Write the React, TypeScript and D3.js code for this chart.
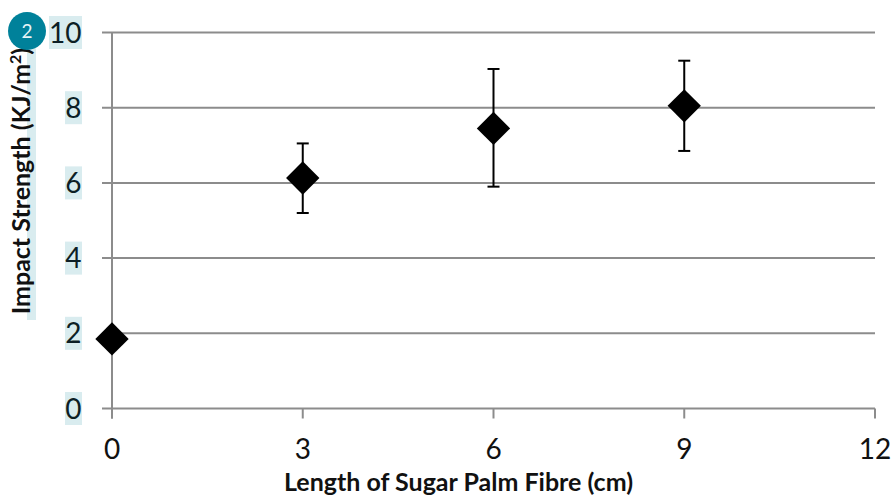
import * as d3 from 'd3';

const fibreLengths = [0, 3, 6, 9];
const impactStrength = [1.85, 6.13, 7.45, 8.05];
const errorHigh = [1.85, 7.05, 9.03, 9.25];
const errorLow = [1.85, 5.2, 5.9, 6.85];
const xTicks = [0, 3, 6, 9, 12];
const yTicks = [0, 2, 4, 6, 8, 10];

const width = 893;
const height = 497;
const margin = { top: 32.5, right: 18, bottom: 88.5, left: 112 };
const font = 'Lato, "Open Sans", sans-serif';
const highlight = '#d9ecef';
const ink = '#0d1f26';
const gridColor = '#8c8c8c';

export default function App() {
  const x = d3.scaleLinear().domain([0, 12]).range([margin.left, width - margin.right]);
  const y = d3.scaleLinear().domain([0, 10]).range([height - margin.bottom, margin.top]);
  const diamond = d3.symbol().type(d3.symbolSquare).size(420)();

  return (
    <svg
      width={width}
      height={height}
      viewBox={`0 0 ${width} ${height}`}
      style={{ position: 'absolute', left: 0, top: 0, background: '#fff' }}
      fontFamily={font}
    >
      {/* highlighted background of the y axis title */}
      <rect x={27} y={48} width={9} height={272} fill={highlight} />

      {yTicks.map((t) => (
        <g key={t}>
          <rect
            x={t === 10 ? 49 : 65}
            y={y(t) - 16.5}
            width={t === 10 ? 33 : 17}
            height={33}
            fill={highlight}
          />
          <text x={81.5} y={y(t) + 10} textAnchor="end" fontSize={28} fill={ink}>
            {t}
          </text>
          <line x1={102} x2={x(12)} y1={y(t)} y2={y(t)} stroke={gridColor} strokeWidth={2} />
        </g>
      ))}

      <line x1={x(0)} x2={x(0)} y1={y(10)} y2={y(0) + 10} stroke={gridColor} strokeWidth={2} />
      {xTicks.map((t) => (
        <g key={t}>
          <line x1={x(t)} x2={x(t)} y1={y(0)} y2={y(0) + 10} stroke={gridColor} strokeWidth={2} />
          <text x={x(t)} y={459} textAnchor="middle" fontSize={28} fill="#111">
            {t}
          </text>
        </g>
      ))}

      {fibreLengths.map((len, i) =>
        errorHigh[i] === errorLow[i] ? null : (
          <g key={len} stroke="#000" strokeWidth={2}>
            <line x1={x(len)} x2={x(len)} y1={y(errorHigh[i])} y2={y(errorLow[i])} />
            <line x1={x(len) - 6} x2={x(len) + 6} y1={y(errorHigh[i])} y2={y(errorHigh[i])} />
            <line x1={x(len) - 6} x2={x(len) + 6} y1={y(errorLow[i])} y2={y(errorLow[i])} />
          </g>
        )
      )}

      {fibreLengths.map((len, i) => (
        <path
          key={len}
          d={diamond ?? ''}
          transform={`translate(${x(len)},${y(impactStrength[i])}) rotate(45) scale(1.15)`}
          fill="#000"
        />
      ))}

      <text x={458.5} y={491} textAnchor="middle" fontSize={25} fontWeight={700} fill="#111">
        Length of Sugar Palm Fibre (cm)
      </text>
      <text
        transform="translate(30,181) rotate(-90)"
        textAnchor="middle"
        fontSize={25}
        fontWeight={700}
        fill="#111"
      >
        Impact Strength (KJ/m<tspan fontSize={16} dy={-9}>2</tspan>
        <tspan dy={9}>)</tspan>
      </text>

      <circle cx={27} cy={31} r={19} fill="#00819a" />
      <text x={27} y={38} textAnchor="middle" fontSize={19} fill="#e8f4f6">
        2
      </text>
    </svg>
  );
}
